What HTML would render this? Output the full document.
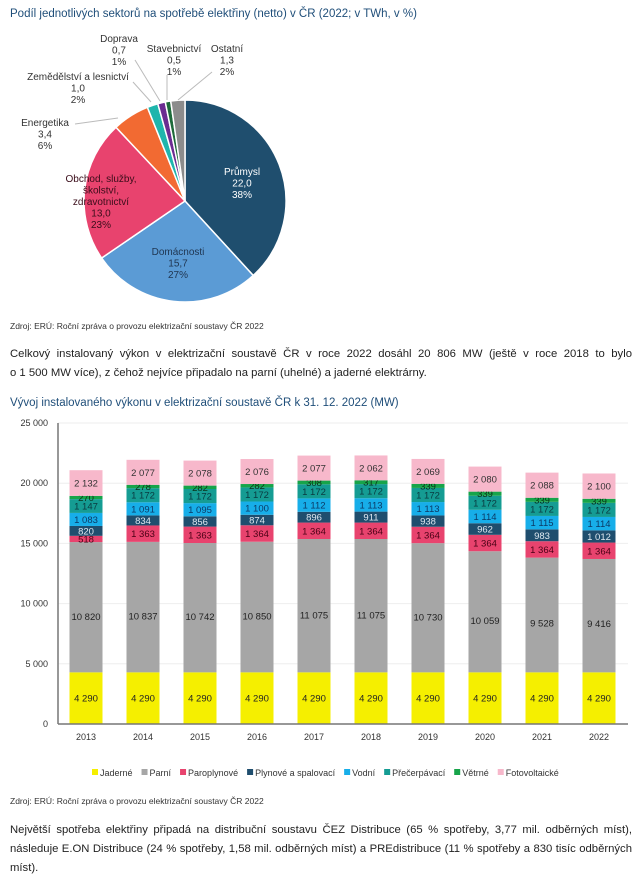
<!DOCTYPE html>
<html><head><meta charset="utf-8">
<style>
body{margin:0;background:#fff;width:640px;height:879px;overflow:hidden;font-family:"Liberation Sans",sans-serif;}
.t{position:absolute;white-space:nowrap}
.title{color:#1f4e79;font-size:11.5px;}
.src{font-size:8.5px;color:#333;}
.para{font-size:11.3px;color:#222;line-height:19px;width:622px;text-align:justify;text-align-last:left;white-space:normal}
.jl{display:block;text-align:justify;text-align-last:justify;white-space:nowrap}
</style></head><body>
<div class="t title" style="left:10px;top:8px">Podíl jednotlivých sektorů na spotřebě elektřiny (netto) v ČR (2022; v TWh, v %)</div>
<svg id="pie" style="position:absolute;left:0;top:0" width="320" height="320"></svg>
<div class="t src" style="left:10px;top:321px">Zdroj: ERÚ: Roční zpráva o provozu elektrizační soustavy ČR 2022</div>
<div class="t para" style="left:10px;top:345px"><span class="jl">Celkový instalovaný výkon v elektrizační soustavě ČR v roce 2022 dosáhl 20 806 MW (ještě v roce 2018 to bylo</span><span style="display:block">o 1 500 MW více), z čehož nejvíce připadalo na parní (uhelné) a jaderné elektrárny.</span></div>
<div class="t title" style="left:10px;top:397px">Vývoj instalovaného výkonu v elektrizační soustavě ČR k 31. 12. 2022 (MW)</div>
<svg id="bar" style="position:absolute;left:0;top:410px" width="640" height="380"></svg>
<div class="t src" style="left:10px;top:796px">Zdroj: ERÚ: Roční zpráva o provozu elektrizační soustavy ČR 2022</div>
<div class="t para" style="left:10px;top:821px">Největší spotřeba elektřiny připadá na distribuční soustavu ČEZ Distribuce (65 % spotřeby, 3,77 mil. odběrných míst), následuje E.ON Distribuce (24 % spotřeby, 1,58 mil. odběrných míst) a PREdistribuce (11 % spotřeby a 830 tisíc odběrných míst).</div>
<script>
const pieLabels=["Průmysl","Domácnosti","Obchod","Energetika","Zemědělství","Doprava","Stavebnictví","Ostatní"];
const pieValues=[22.0,15.7,13.0,3.4,1.0,0.7,0.5,1.3];
const pieColors=["#1f4e6e","#5b9bd5","#e8436e","#f26a32","#1fb5ac","#6b2c91","#1e6b3a","#8c8c8c"];
const years=["2013","2014","2015","2016","2017","2018","2019","2020","2021","2022"];
const jaderne=[4290,4290,4290,4290,4290,4290,4290,4290,4290,4290];
const parni=[10820,10837,10742,10850,11075,11075,10730,10059,9528,9416];
const paroplyn=[518,1363,1363,1364,1364,1364,1364,1364,1364,1364];
const plynove=[820,834,856,874,896,911,938,962,983,1012];
const vodni=[1083,1091,1095,1100,1112,1113,1113,1114,1115,1114];
const precerp=[1147,1172,1172,1172,1172,1172,1172,1172,1172,1172];
const vetrne=[270,278,282,282,308,317,339,339,339,339];
const foto=[2132,2077,2078,2076,2077,2062,2069,2080,2088,2100];
const yTicks=[0,5000,10000,15000,20000,25000];
const NS="http://www.w3.org/2000/svg";
function mk(p,tag,a,txt){const e=document.createElementNS(NS,tag);for(const k in a)e.setAttribute(k,a[k]);if(txt!==undefined)e.textContent=txt;p.appendChild(e);return e;}
// PIE
const pie=document.getElementById('pie');
const cx=185,cy=201,R=101;
const tot=pieValues.reduce((a,b)=>a+b,0);
let ang=0;
pieValues.forEach((v,i)=>{
  const a0=ang,a1=ang+v/tot*2*Math.PI;ang=a1;
  const x0=cx+R*Math.sin(a0),y0=cy-R*Math.cos(a0),x1=cx+R*Math.sin(a1),y1=cy-R*Math.cos(a1);
  const p=mk(pie,'path',{d:`M${cx},${cy}L${x0},${y0}A${R},${R} 0 ${a1-a0>Math.PI?1:0} 1 ${x1},${y1}Z`,fill:pieColors[i],stroke:'#fff','stroke-width':1.5});
  
  
});
const lbl=(x,y,lines,col,anchor)=>{lines.forEach((l,k)=>mk(pie,'text',{x:x,y:y+k*11.5,'font-size':10,fill:col,'text-anchor':anchor||'middle'},l));};
lbl(242,175,["Průmysl","22,0","38%"],"#fff");
lbl(178,255,["Domácnosti","15,7","27%"],"#1f3550");
lbl(101,182,["Obchod, služby,","školství,","zdravotnictví","13,0","23%"],"#3a0d1a");
lbl(45,126,["Energetika","3,4","6%"],"#333");
lbl(78,80,["Zemědělství a lesnictví","1,0","2%"],"#333");
lbl(119,42,["Doprava","0,7","1%"],"#333");
lbl(174,52,["Stavebnictví","0,5","1%"],"#333");
lbl(227,52,["Ostatní","1,3","2%"],"#333");
[[75,124,118,118],[133,82,151,102],[135,60,160,101],[167,75,167,100],[212,72,178,100]].forEach(s=>mk(pie,'polyline',{points:`${s[0]},${s[1]} ${s[2]},${s[3]}`,stroke:'#bbb',fill:'none','stroke-width':1}));
// BAR
const bar=document.getElementById('bar');
const top0=13,bot=314,x0=58,x1=628;
const yS=v=>bot-(v/25000)*(bot-top0);
const step=(x1-x0)/years.length;
const xC=i=>x0+step*(i+0.5)-0.5;
yTicks.forEach(t=>{
  if(t>0)mk(bar,'line',{x1:x0,x2:x1,y1:yS(t),y2:yS(t),stroke:'#eee'});
  const tx=mk(bar,'text',{x:48,y:yS(t)+3,'font-size':9,fill:'#333','text-anchor':'end'},t===0?'0':(t/1000)+' 000');
  
  
});
const series=[["Jaderné",jaderne,"#f5ef00","#222"],["Parní",parni,"#a6a6a6","#222"],["Paroplynové",paroplyn,"#e8436e","#4a0015"],["Plynové a spalovací",plynove,"#1f4e6e","#dfe8f0"],["Vodní",vodni,"#17aee9","#0b3a66"],["Přečerpávací",precerp,"#159c93","#0a3a40"],["Větrné",vetrne,"#17a44a","#0a3318"],["Fotovoltaické",foto,"#f7b8cb","#333"]];
const fmt=v=>v>=1000?Math.floor(v/1000)+' '+String(v%1000).padStart(3,'0'):String(v);
years.forEach((y,i)=>{
  let acc=0;const bw=33,xc=xC(i);
  series.forEach((s,k)=>{
    const v=s[1][i],yT=yS(acc+v),yB=yS(acc);
    const r=mk(bar,'rect',{x:xc-bw/2,y:yT,width:bw,height:yB-yT,fill:s[2]});
    
    
    let ly=(yT+yB)/2+3.5;
    if(k===1) ly=yS(acc+v*0.43)+3.5;
    if(k===0) ly=yS(acc+v*0.5)+3.5;
    mk(bar,'text',{x:xc,y:ly,'font-size':9.5,fill:s[3],'text-anchor':'middle'},fmt(v));
    acc+=v;
  });
  const yl=mk(bar,'text',{x:xc,y:bot+16,'font-size':9,fill:'#333','text-anchor':'middle'},y);
  
  
});
mk(bar,'line',{x1:x0,x2:x0,y1:top0,y2:bot,stroke:'#777','stroke-width':1.5});
mk(bar,'line',{x1:x0,x2:x1,y1:bot,y2:bot,stroke:'#777','stroke-width':1.5});
let lx=92;
series.forEach((s,k)=>{
  const g=mk(bar,'g',{});
  
  
  mk(g,'rect',{x:lx,y:359,width:6,height:6,fill:s[2]});
  const t=mk(g,'text',{x:lx+8,y:366,'font-size':9,fill:'#333'},s[0]);
  lx+=t.getComputedTextLength()+17;
});
</script>
</body></html>
